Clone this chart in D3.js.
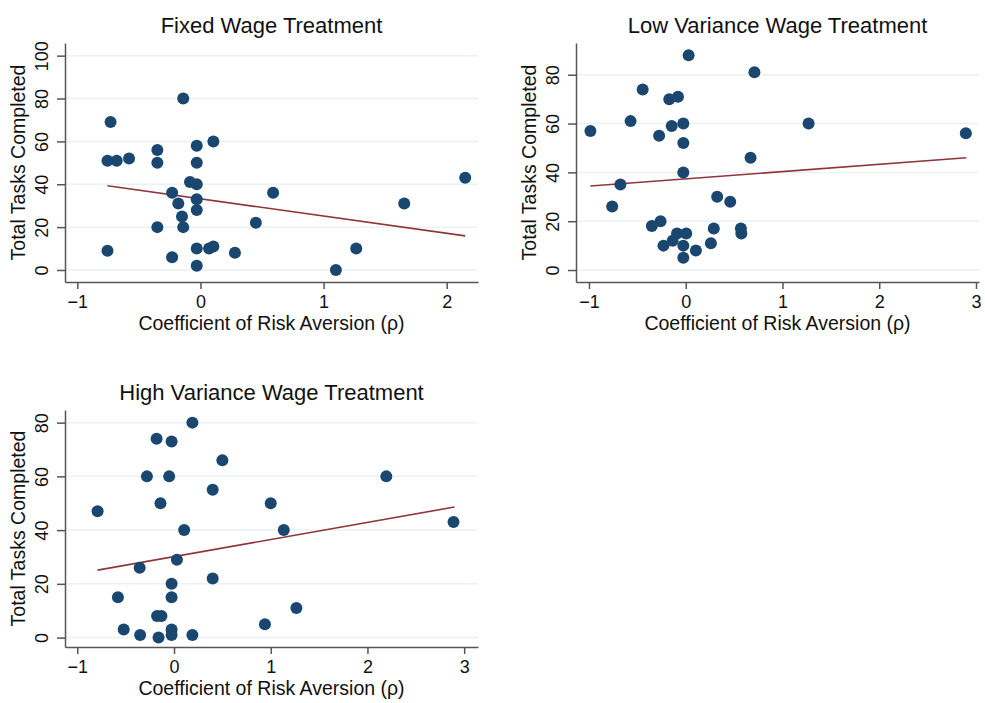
<!DOCTYPE html>
<html>
<head>
<meta charset="utf-8">
<script src="https://cdn.jsdelivr.net/npm/d3@7"></script>
<style>
  body { margin: 0; background: #fff; }
  svg { display: block; font-family: "Liberation Sans", Arial, sans-serif; }
  .grid line { stroke: #eaf2f3; stroke-width: 1.5; }
  .axis path, .axis line { stroke: #555; stroke-width: 1.5; }
  .axis text { fill: #111; font-size: 18px; font-family: "Liberation Sans", Arial, sans-serif; }
  .title { font-size: 22px; fill: #111; }
  .axis-title { font-size: 19.5px; fill: #111; }
</style>
</head>
<body>
<div class="chart"></div>
<script>
// values
const fixedRho   = [-0.14, -0.73, 0.105, -0.35, -0.03, -0.755, -0.68, -0.58, -0.35, -0.03, -0.085, -0.03, -0.23, -0.03, -0.18, -0.03,
                    -0.15, -0.35, -0.14, 0.59, 0.45, 1.655, 2.15, -0.755, -0.23, -0.03, 0.07, 0.105, 0.28, -0.03, 1.10, 1.265];
const fixedTasks = [80, 69, 60, 56, 58, 51, 51, 52, 50, 50, 41, 40, 36, 33, 31, 28,
                    25, 20, 20, 36, 22, 31, 43, 9, 6, 10, 10, 11, 8, 2, 0, 10];

const lowRho   = [0.03, 0.71, -0.445, -0.17, -0.08, -0.57, -0.985, -0.145, -0.025, -0.275, -0.025, 1.27, 2.895, 0.67, -0.025, -0.675,
                  -0.76, 0.325, 0.46, -0.35, -0.26, -0.09, 0.005, -0.135, -0.23, -0.025, 0.105, 0.26, 0.29, 0.57, 0.575, -0.025];
const lowTasks = [88, 81, 74, 70, 71, 61, 57, 59, 60, 55, 52, 60, 56, 46, 40, 35,
                  26, 30, 28, 18, 20, 15, 15, 12, 10, 10, 8, 11, 17, 17, 15, 5];

const highRho   = [0.19, -0.18, -0.025, 0.5, -0.28, -0.05, 2.195, 0.4, -0.14, 1.0, -0.79, 2.89, 0.105, 1.135, 0.03,
                   -0.355, 0.4, -0.025, -0.58, -0.025, 1.265, -0.175, -0.13, 0.94, -0.52, -0.025, -0.35, -0.16, -0.025, 0.19];
const highTasks = [80, 74, 73, 66, 60, 60, 60, 55, 50, 50, 47, 43, 40, 40, 29,
                   26, 22, 20, 15, 15, 11, 8, 8, 5, 3, 3, 1, 0, 1, 1];

// fitted line end points [rho, tasks]
const fixedFit = [[-0.755, 39.3], [2.15, 15.9]];
const lowFit   = [[-0.985, 34.4], [2.9, 46.0]];
const highFit  = [[-0.79, 25.1], [2.9, 48.6]];

const fixedYTicks = [0, 20, 40, 60, 80, 100];
const lowYTicks   = [0, 20, 40, 60, 80];
const highYTicks  = [0, 20, 40, 60, 80];
const fixedXTicks = [-1, 0, 1, 2];
const lowXTicks   = [-1, 0, 1, 2, 3];
const highXTicks  = [-1, 0, 1, 2, 3];

const titles = ['Fixed Wage Treatment', 'Low Variance Wage Treatment', 'High Variance Wage Treatment'];
const xLabel = 'Coefficient of Risk Aversion (\u03c1)';
const yLabel = 'Total Tasks Completed';

const panels = [
  { title: titles[0], rho: fixedRho, tasks: fixedTasks, fit: fixedFit, xTicks: fixedXTicks, yTicks: fixedYTicks,
    box: { left: 65, right: 478, top: 43, bottom: 282 }, xDom: [-1.1, 2.254], yDom: [-5.6, 105.9] },
  { title: titles[1], rho: lowRho, tasks: lowTasks, fit: lowFit, xTicks: lowXTicks, yTicks: lowYTicks,
    box: { left: 576, right: 979, top: 43, bottom: 282 }, xDom: [-1.134, 3.031], yDom: [-4.9, 93.0] },
  { title: titles[2], rho: highRho, tasks: highTasks, fit: highFit, xTicks: highXTicks, yTicks: highYTicks,
    box: { left: 65, right: 478, top: 410, bottom: 647 }, xDom: [-1.127, 3.143], yDom: [-3.5, 84.7] }
];

const svg = d3.select('.chart').append('svg')
  .attr('width', 985)
  .attr('height', 703);

panels.forEach(function (p) {
  const b = p.box;
  const x = d3.scaleLinear().domain(p.xDom).range([b.left, b.right]);
  const y = d3.scaleLinear().domain(p.yDom).range([b.bottom, b.top]);
  const g = svg.append('g');

  // grid lines
  g.append('g').classed('grid', true)
    .selectAll('line')
    .data(p.yTicks)
    .enter().append('line')
    .attr('x1', b.left)
    .attr('x2', b.right)
    .attr('y1', d => y(d))
    .attr('y2', d => y(d));

  // axes
  const xAxis = d3.axisBottom(x).tickValues(p.xTicks).tickFormat(d3.format('d'))
    .tickSize(7).tickPadding(6).tickSizeOuter(0);
  g.append('g').classed('axis', true)
    .attr('transform', 'translate(0,' + b.bottom + ')')
    .call(xAxis);

  const yAxis = d3.axisLeft(y).tickValues(p.yTicks).tickFormat(d3.format('d'))
    .tickSize(8).tickSizeOuter(0);
  const ya = g.append('g').classed('axis', true)
    .attr('transform', 'translate(' + b.left + ',0)')
    .call(yAxis);
  ya.selectAll('.tick text')
    .attr('transform', 'rotate(-90)')
    .attr('x', 0)
    .attr('y', -17)
    .attr('dy', 0)
    .attr('text-anchor', 'middle');

  // fit line
  const line = d3.line().x(d => x(d[0])).y(d => y(d[1]));
  g.append('path')
    .datum(p.fit)
    .attr('d', line)
    .attr('fill', 'none')
    .attr('stroke', '#90353b')
    .attr('stroke-width', 1.6);

  // points
  g.selectAll('circle')
    .data(p.rho.map((r, i) => [r, p.tasks[i]]))
    .enter().append('circle')
    .attr('cx', d => x(d[0]))
    .attr('cy', d => y(d[1]))
    .attr('r', 6)
    .attr('fill', '#1a476f');

  // titles
  g.append('text').classed('title', true)
    .attr('x', (b.left + b.right) / 2)
    .attr('y', b.top - 10)
    .attr('text-anchor', 'middle')
    .text(p.title);

  g.append('text').classed('axis-title', true)
    .attr('x', (b.left + b.right) / 2)
    .attr('y', b.bottom + 48)
    .attr('text-anchor', 'middle')
    .text(xLabel);

  g.append('text').classed('axis-title', true)
    .attr('transform', 'translate(' + (b.left - 40) + ',' + ((b.top + b.bottom) / 2) + ') rotate(-90)')
    .attr('text-anchor', 'middle')
    .text(yLabel);
});
</script>
</body>
</html>
